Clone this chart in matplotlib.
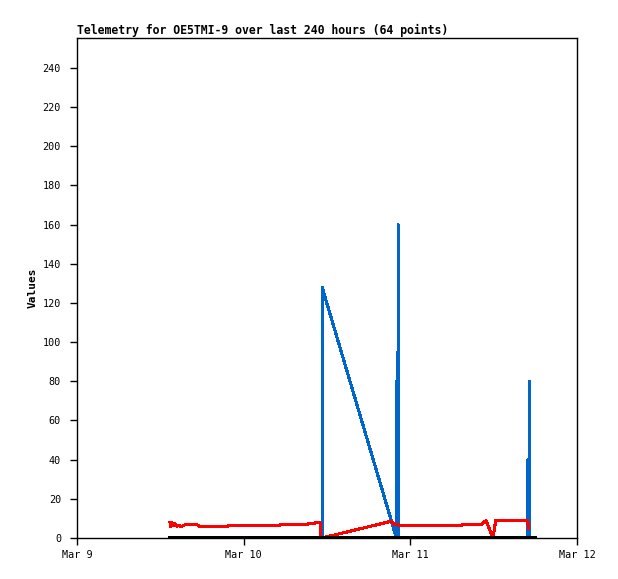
import numpy as np
import matplotlib
matplotlib.use("Agg")
import matplotlib.pyplot as plt

# hours since Mar 9 00:00
red_h = [13.4, 13.5, 13.7, 13.9, 14.1, 14.4, 14.7, 15.0, 15.6, 17.3, 17.7, 21.7, 21.8,
         29.2, 29.3, 33.3, 33.4, 35.0, 35.1, 35.5, 45.2, 45.8, 46.5, 49.4, 49.5,
         55.4, 55.5, 58.3, 58.9, 59.9, 60.3, 64.9, 65.0]
red_v = [8.0, 5.8, 7.8, 6.2, 7.2, 6.0, 6.6, 5.8, 6.8, 6.8, 5.8, 5.8, 6.3,
         6.3, 7.0, 7.0, 7.5, 7.8, 0.0, 0.2, 8.5, 6.8, 6.6, 6.6, 6.3,
         6.3, 7.0, 7.0, 8.9, 0.0, 8.9, 8.9, 4.7]

blue_h = [35.3, 35.3, 46.0, 46.05, 46.1, 46.2, 46.25, 46.3, 64.9, 64.95, 65.0, 65.1, 65.15, 65.2]
blue_v = [0, 128, 0, 80, 0, 0, 160, 0, 0, 40, 0, 0, 80, 0]

black_h = [13.4, 66.0]
black_v = [0, 0]

day_ticks = [0, 24, 48, 72]
day_labels = ["Mar 9", "Mar 10", "Mar 11", "Mar 12"]
y_ticks = list(range(0, 241, 20))

mono = "DejaVu Sans Mono"

fig = plt.figure(figsize=(6.18, 5.79), dpi=100)
ax = fig.add_axes([77 / 618, 41 / 579, 500 / 618, 500 / 579])

ax.plot(blue_h, blue_v, color="#0066cc", lw=1.5, antialiased=False)
ax.plot(red_h, red_v, color="#ff0000", lw=1.5, antialiased=False)
ax.plot(black_h, black_v, color="black", lw=1.5, antialiased=False)

ax.set_xlim(0, 72)
ax.set_ylim(0, 255.3)
ax.set_xticks(day_ticks)
ax.set_xticklabels(day_labels)
ax.set_yticks(y_ticks)

for s in ax.spines.values():
    s.set_linewidth(1)
ax.tick_params(direction="out", length=5, width=1, labelsize=7.3, colors="black")
ax.tick_params(axis="y", pad=6.5)
ax.tick_params(axis="x", pad=4)
for lab in ax.get_xticklabels() + ax.get_yticklabels():
    lab.set_family(mono)

ax.set_ylabel("Values", family=mono, fontsize=8, fontweight="bold", labelpad=3.5)
ax.set_title("Telemetry for OE5TMI-9 over last 240 hours (64 points)", loc="left",
             family=mono, fontsize=8.3, fontweight="bold", pad=3)

fig.savefig("out.png", dpi=100)
